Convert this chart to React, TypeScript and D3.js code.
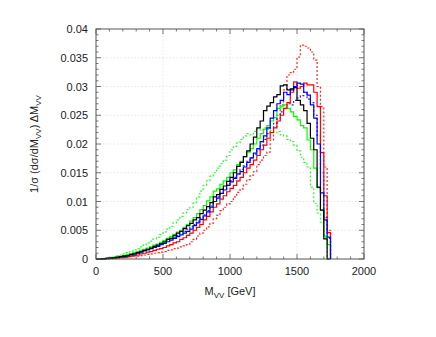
import React, { useEffect, useRef } from 'react';
import * as d3 from 'd3';

// bin width in GeV, histograms start at 0
const binWidth = 25;

const blackSolid = [
  0, 0, 0.00005, 0.0001, 0.00015, 0.0002, 0.0003, 0.0004,
  0.0005, 0.0006, 0.0008, 0.0009, 0.0011, 0.0013, 0.0015, 0.0017,
  0.0019, 0.0022, 0.0024, 0.0027, 0.003, 0.0034, 0.0036, 0.0041,
  0.0045, 0.0048, 0.0053, 0.0058, 0.0062, 0.0068, 0.0072, 0.0079,
  0.0085, 0.0091, 0.0098, 0.0108, 0.0112, 0.0121, 0.0127, 0.0135,
  0.0142, 0.015, 0.0161, 0.0168, 0.0178, 0.0188, 0.02, 0.0212,
  0.0228, 0.024, 0.0258, 0.0266, 0.0272, 0.0282, 0.0286, 0.0301,
  0.0303, 0.0294, 0.0296, 0.0298, 0.0276, 0.0268, 0.0258, 0.0236,
  0.021, 0.019, 0.0125, 0.0085, 0.0035, 0,
];

const redSolid = [
  0, 0, 0, 0.00005, 0.0001, 0.00015, 0.0002, 0.0003,
  0.0003, 0.0004, 0.0005, 0.0006, 0.0007, 0.0009, 0.001, 0.0012,
  0.0013, 0.0015, 0.0017, 0.0018, 0.002, 0.0023, 0.0025, 0.0028,
  0.003, 0.0034, 0.0037, 0.0041, 0.0045, 0.005, 0.0055, 0.006,
  0.0068, 0.0074, 0.0082, 0.009, 0.0096, 0.0104, 0.011, 0.0117,
  0.0123, 0.0128, 0.0136, 0.0142, 0.015, 0.0158, 0.0164, 0.0172,
  0.018, 0.019, 0.0198, 0.021, 0.022, 0.0228, 0.024, 0.025,
  0.0262, 0.0272, 0.029, 0.0308, 0.0297, 0.03, 0.0306, 0.0303,
  0.0303, 0.029, 0.0265, 0.0185, 0.011, 0.0046,
];

const blueSolid = [
  0, 0, 0.00005, 0.0001, 0.00015, 0.0002, 0.0003, 0.0004,
  0.0005, 0.0006, 0.0007, 0.0009, 0.001, 0.0012, 0.0014, 0.0016,
  0.0018, 0.002, 0.0022, 0.0025, 0.0027, 0.003, 0.0033, 0.0036,
  0.0039, 0.0042, 0.0045, 0.0048, 0.0052, 0.0058, 0.0063, 0.0069,
  0.0075, 0.0082, 0.009, 0.01, 0.0106, 0.0114, 0.012, 0.0128,
  0.0134, 0.014, 0.0148, 0.0152, 0.016, 0.0168, 0.0176, 0.0184,
  0.0192, 0.0204, 0.0214, 0.0228, 0.0245, 0.0258, 0.027, 0.0276,
  0.029, 0.0286, 0.0294, 0.03, 0.0306, 0.0304, 0.029, 0.0285,
  0.0268, 0.0245, 0.02, 0.0115, 0.0068, 0.0038,
];

const blueDashed = [
  0, 0, 0.00005, 0.0001, 0.0002, 0.0002, 0.0003, 0.0004,
  0.0005, 0.0007, 0.0008, 0.0009, 0.0011, 0.0013, 0.0015, 0.0017,
  0.0019, 0.0021, 0.0023, 0.0026, 0.0028, 0.0032, 0.0035, 0.0038,
  0.0041, 0.0045, 0.0048, 0.0052, 0.0056, 0.006, 0.0066, 0.0071,
  0.0077, 0.0084, 0.0092, 0.01, 0.0108, 0.0114, 0.0122, 0.0128,
  0.0136, 0.0142, 0.0148, 0.0156, 0.0162, 0.017, 0.0176, 0.0182,
  0.019, 0.0198, 0.0208, 0.0218, 0.0228, 0.0236, 0.0244, 0.0256,
  0.0262, 0.027, 0.0268, 0.0276, 0.028, 0.0284, 0.029, 0.0278,
  0.0272, 0.025, 0.0215, 0.015, 0.0072, 0.0036,
];

const greenSolid = [
  0, 0, 0.00005, 0.0001, 0.0002, 0.0003, 0.0004, 0.0005,
  0.0006, 0.0008, 0.0009, 0.0011, 0.0013, 0.0015, 0.0017, 0.0019,
  0.0021, 0.0024, 0.0026, 0.0029, 0.0032, 0.0036, 0.0039, 0.0043,
  0.0047, 0.005, 0.0055, 0.006, 0.0066, 0.0072, 0.0079, 0.0086,
  0.0093, 0.0101, 0.0108, 0.0118, 0.0122, 0.013, 0.0136, 0.0142,
  0.015, 0.0155, 0.0164, 0.017, 0.0178, 0.0186, 0.0192, 0.02,
  0.021, 0.0218, 0.0226, 0.0232, 0.024, 0.0246, 0.0262, 0.0266,
  0.0268, 0.0262, 0.0256, 0.0248, 0.0242, 0.0232, 0.0228, 0.0207,
  0.019, 0.0158, 0.0124, 0.0085, 0.004, 0.0025,
];

const greenDashed = [
  0, 0.00005, 0.0001, 0.0002, 0.0003, 0.0004, 0.0006, 0.0007,
  0.0009, 0.0011, 0.0013, 0.0016, 0.0018, 0.0021, 0.0024, 0.0028,
  0.0031, 0.0035, 0.0038, 0.0043, 0.0047, 0.0052, 0.0057, 0.0063,
  0.0068, 0.0074, 0.008, 0.0086, 0.009, 0.0098, 0.0108, 0.0118,
  0.0128, 0.0136, 0.0144, 0.015, 0.0158, 0.0166, 0.0172, 0.018,
  0.019, 0.0196, 0.0202, 0.0208, 0.0214, 0.0218, 0.0216, 0.0222,
  0.0226, 0.0224, 0.0228, 0.0226, 0.0223, 0.022, 0.0222, 0.0216,
  0.0214, 0.0208, 0.0204, 0.0198, 0.0188, 0.0177, 0.0168, 0.016,
  0.0125, 0.0097, 0.008, 0.0064, 0.0038, 0,
];

const redDashed = [
  0, 0, 0, 0.00003, 0.00005, 0.0001, 0.00015, 0.0002,
  0.00025, 0.0003, 0.0004, 0.0005, 0.0005, 0.0006, 0.0007, 0.0008,
  0.0009, 0.001, 0.0011, 0.0012, 0.0013, 0.0015, 0.0016, 0.0018,
  0.0019, 0.0021, 0.0023, 0.0025, 0.003, 0.0034, 0.004, 0.0045,
  0.005, 0.0056, 0.0062, 0.007, 0.0076, 0.0084, 0.009, 0.0096,
  0.01, 0.0108, 0.0116, 0.0122, 0.013, 0.0138, 0.0146, 0.0152,
  0.0164, 0.0172, 0.018, 0.0186, 0.0207, 0.023, 0.025, 0.0268,
  0.0294, 0.032, 0.0324, 0.033, 0.0351, 0.0372, 0.037, 0.0367,
  0.036, 0.0346, 0.03, 0.0265, 0.016, 0.005,
];

const series = [
  { name: 'redDashed', values: redDashed, color: '#ff0000', dash: '2,2' },
  { name: 'greenDashed', values: greenDashed, color: '#00ff00', dash: '2,2' },
  { name: 'blueDashed', values: blueDashed, color: '#0000ff', dash: '2,2' },
  { name: 'greenSolid', values: greenSolid, color: '#00ff00', dash: null },
  { name: 'redSolid', values: redSolid, color: '#ff0000', dash: null },
  { name: 'blueSolid', values: blueSolid, color: '#0000ff', dash: null },
  { name: 'blackSolid', values: blackSolid, color: '#000000', dash: null },
];

const xTicks = [0, 500, 1000, 1500, 2000];
const yTicks = [0, 0.005, 0.01, 0.015, 0.02, 0.025, 0.03, 0.035, 0.04];
const yTickLabels = ['0', '0.005', '0.01', '0.015', '0.02', '0.025', '0.03', '0.035', '0.04'];

const App = () => {
  const svgRef = useRef<SVGSVGElement>(null);

  useEffect(() => {
    const W = 436, H = 337;
    const margin = { top: 29, right: 72, bottom: 78, left: 96 };
    const width = W - margin.left - margin.right;
    const height = H - margin.top - margin.bottom;

    d3.select(svgRef.current).selectAll('*').remove();
    const root = d3.select(svgRef.current)
      .attr('width', W)
      .attr('height', H);

    root.append('rect').attr('width', W).attr('height', H).attr('fill', '#fff');

    const svg = root.append('g')
      .attr('transform', `translate(${margin.left},${margin.top})`);

    const x = d3.scaleLinear().domain([0, 2000]).range([0, width]);
    const y = d3.scaleLinear().domain([0, 0.04]).range([height, 0]);

    const font = 'Liberation Sans, Arial, sans-serif';

    // grid
    svg.append('g')
      .selectAll('line.gx')
      .data(xTicks.slice(1, -1))
      .enter().append('line')
      .attr('x1', d => x(d)).attr('x2', d => x(d))
      .attr('y1', 0).attr('y2', height)
      .attr('stroke', '#d8d8d8').attr('stroke-width', 0.6)
      .attr('stroke-dasharray', '1.5,2');
    svg.append('g')
      .selectAll('line.gy')
      .data(yTicks.slice(1, -1))
      .enter().append('line')
      .attr('x1', 0).attr('x2', width)
      .attr('y1', d => y(d)).attr('y2', d => y(d))
      .attr('stroke', '#d8d8d8').attr('stroke-width', 0.6)
      .attr('stroke-dasharray', '1.5,2');

    // histograms
    const plot = svg.append('g');
    svg.append('clipPath').attr('id', 'plotclip')
      .append('rect').attr('width', width).attr('height', height + 1);
    plot.attr('clip-path', 'url(#plotclip)');

    const line = d3.line<[number, number]>()
      .x(d => x(d[0]))
      .y(d => y(d[1]))
      .curve(d3.curveStepAfter);

    series.forEach(s => {
      const pts: [number, number][] = s.values.map((v, i) => [i * binWidth, v]);
      pts.push([s.values.length * binWidth, 0]);
      plot.append('path')
        .datum(pts)
        .attr('d', line)
        .attr('fill', 'none')
        .attr('stroke', s.color)
        .attr('stroke-width', 1.2)
        .attr('stroke-dasharray', s.dash)
        .attr('opacity', s.dash ? 0.85 : 1);
    });

    // frame
    svg.append('rect')
      .attr('width', width).attr('height', height)
      .attr('fill', 'none').attr('stroke', '#555').attr('stroke-width', 1);

    // ticks, inward on all sides
    const xMinor = d3.range(0, 2001, 100);
    const yMinor = d3.range(0, 0.0401, 0.001);
    const ticks = svg.append('g').attr('stroke', '#555').attr('stroke-width', 0.8);
    xMinor.forEach(v => {
      const major = v % 500 === 0;
      const len = major ? 5 : 2.5;
      ticks.append('line').attr('x1', x(v)).attr('x2', x(v)).attr('y1', height).attr('y2', height - len);
      ticks.append('line').attr('x1', x(v)).attr('x2', x(v)).attr('y1', 0).attr('y2', len);
    });
    yMinor.forEach((v, i) => {
      const major = i % 5 === 0;
      const len = major ? 5 : 2.5;
      ticks.append('line').attr('x1', 0).attr('x2', len).attr('y1', y(v)).attr('y2', y(v));
      ticks.append('line').attr('x1', width).attr('x2', width - len).attr('y1', y(v)).attr('y2', y(v));
    });

    // tick labels
    svg.append('g').selectAll('text')
      .data(xTicks).enter().append('text')
      .attr('x', d => x(d)).attr('y', height + 16)
      .attr('text-anchor', 'middle')
      .style('font-family', font).style('font-size', '11px').attr('fill', '#222')
      .text(d => d);
    svg.append('g').selectAll('text')
      .data(yTicks).enter().append('text')
      .attr('x', -8).attr('y', d => y(d) + 4)
      .attr('text-anchor', 'end')
      .style('font-family', font).style('font-size', '11px').attr('fill', '#222')
      .text((d, i) => yTickLabels[i]);

    // x axis label
    const xl = svg.append('text')
      .attr('x', width / 2).attr('y', height + 36)
      .attr('text-anchor', 'middle')
      .style('font-family', font).style('font-size', '11px').attr('fill', '#222');
    xl.append('tspan').text('M');
    xl.append('tspan').attr('font-size', '8px').attr('dy', 3).text('VV');
    xl.append('tspan').attr('dy', -3).text(' [GeV]');

    // y axis label
    const yl = svg.append('text')
      .attr('transform', `translate(${-58},${height / 2}) rotate(-90)`)
      .attr('text-anchor', 'middle')
      .style('font-family', font).style('font-size', '11px').attr('fill', '#222');
    yl.append('tspan').text('1/σ (dσ/dM');
    yl.append('tspan').attr('font-size', '8px').attr('dy', 3).text('VV');
    yl.append('tspan').attr('dy', -3).text(') ΔM');
    yl.append('tspan').attr('font-size', '8px').attr('dy', 3).text('VV');
  }, []);

  return (
    <div style={{ position: 'absolute', left: 0, top: 0 }}>
      <svg ref={svgRef} style={{ display: 'block' }}></svg>
    </div>
  );
};

export default App;
